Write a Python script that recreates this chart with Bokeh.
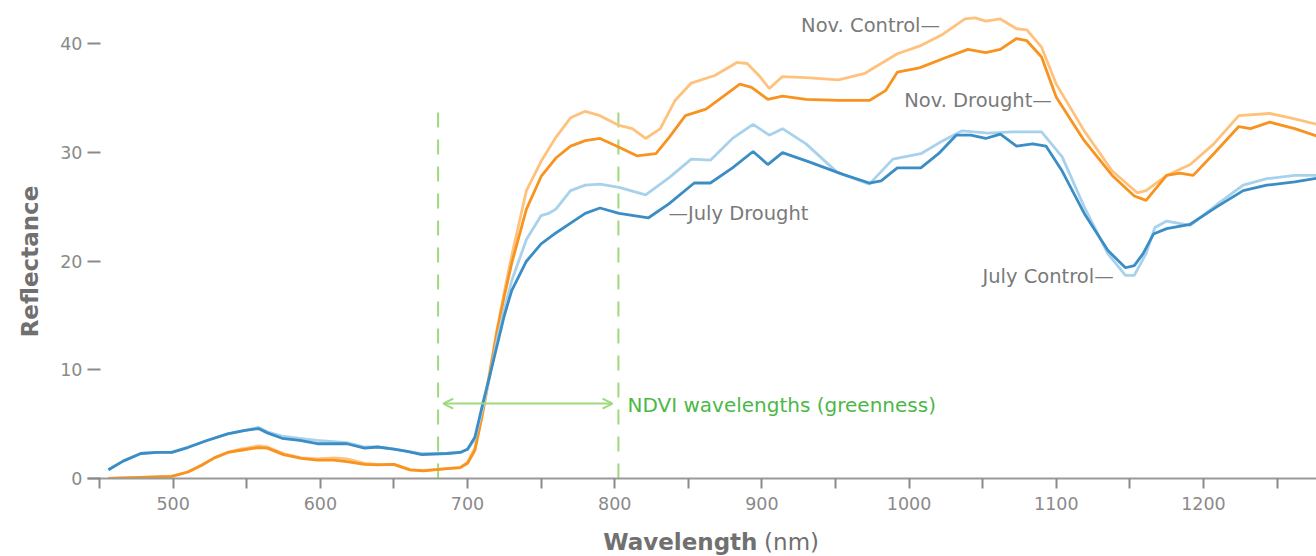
import math
from bokeh.plotting import figure
from bokeh.layouts import column, row
from bokeh.models import Range1d, FixedTicker, Label, Arrow, OpenHead, ColumnDataSource
from bokeh.core.properties import value
from bokeh.embed import file_html
from bokeh.resources import INLINE

# Leaf reflectance spectra (wavelength in nm, reflectance in %)
jd_wl = [456, 466, 478, 489, 499, 510, 523, 537, 548, 558, 564, 574, 586, 598, 609, 618,
         630, 639, 650, 659, 669, 686, 695, 700, 705, 710, 715, 720, 725, 730, 740, 750,
         760, 770, 780, 790, 803, 823, 837, 854, 865, 880, 894, 904, 914, 933, 955, 973,
         981, 992, 1008, 1020, 1032, 1042, 1052, 1062, 1073, 1084, 1093, 1104, 1119, 1135,
         1147, 1153, 1159, 1166, 1175, 1191, 1209, 1227, 1243, 1262, 1280]
jd_val = [0.8, 1.6, 2.3, 2.4, 2.4, 2.85, 3.5, 4.1, 4.4, 4.6, 4.2, 3.7, 3.5, 3.2, 3.2, 3.2,
          2.8, 2.9, 2.7, 2.5, 2.2, 2.3, 2.4, 2.7, 3.8, 6.7, 9.4, 12.2, 15.0, 17.3, 20.0, 21.6,
          22.6, 23.5, 24.4, 24.9, 24.4, 24.0, 25.3, 27.2, 27.2, 28.6, 30.1, 28.9, 30.0, 29.1,
          28.0, 27.2, 27.4, 28.6, 28.6, 29.9, 31.6, 31.6, 31.3, 31.7, 30.6, 30.8, 30.6, 28.3,
          24.4, 21.0, 19.4, 19.6, 20.7, 22.5, 23.0, 23.4, 25.0, 26.5, 27.0, 27.3, 27.7]

jc_wl = [456, 466, 478, 489, 499, 510, 523, 537, 548, 558, 564, 574, 586, 598, 609, 618,
         630, 639, 650, 659, 669, 686, 695, 700, 705, 710, 715, 720, 725, 730, 740, 750,
         755, 760, 770, 780, 790, 803, 821, 837, 852, 865, 880, 894, 905, 914, 930, 951,
         973, 989, 1008, 1023, 1036, 1054, 1070, 1090, 1104, 1119, 1135, 1147, 1153, 1161,
         1167, 1175, 1191, 1209, 1227, 1243, 1262, 1280]
jc_val = [0.8, 1.6, 2.3, 2.4, 2.4, 2.9, 3.5, 4.1, 4.4, 4.7, 4.3, 3.9, 3.7, 3.5, 3.4, 3.3,
          2.9, 2.9, 2.7, 2.5, 2.3, 2.3, 2.4, 2.7, 3.6, 6.3, 9.3, 12.7, 15.6, 18.2, 22.0, 24.2,
          24.4, 24.8, 26.5, 27.0, 27.1, 26.8, 26.1, 27.7, 29.4, 29.3, 31.3, 32.6, 31.6, 32.2,
          30.8, 28.2, 27.1, 29.4, 29.9, 31.1, 32.0, 31.8, 31.9, 31.9, 29.6, 25.0, 20.7, 18.7,
          18.7, 20.7, 23.1, 23.7, 23.3, 25.2, 27.0, 27.6, 27.9, 27.9]

nd_wl = [456, 478, 499, 510, 519, 528, 537, 546, 558, 564, 575, 587, 598, 609, 618, 630,
         639, 650, 661, 670, 686, 695, 700, 705, 710, 715, 720, 725, 730, 740, 750, 760,
         770, 780, 790, 803, 815, 828, 837, 848, 862, 874, 885, 893, 904, 914, 930, 952,
         973, 984, 992, 1007, 1026, 1040, 1052, 1062, 1073, 1080, 1090, 1100, 1119, 1138,
         1153, 1161, 1175, 1184, 1193, 1207, 1224, 1232, 1245, 1262, 1280]
nd_val = [0.0, 0.1, 0.2, 0.6, 1.2, 1.9, 2.4, 2.6, 2.85, 2.8, 2.2, 1.85, 1.7, 1.7, 1.55, 1.3,
          1.25, 1.3, 0.8, 0.7, 0.9, 1.0, 1.4, 2.6, 5.8, 9.5, 13.5, 16.8, 19.8, 24.8, 27.8, 29.5,
          30.6, 31.1, 31.3, 30.5, 29.7, 29.9, 31.4, 33.4, 34.0, 35.2, 36.3, 36.0, 34.9, 35.2,
          34.9, 34.8, 34.8, 35.7, 37.4, 37.8, 38.8, 39.5, 39.2, 39.5, 40.5, 40.3, 38.8, 35.1,
          31.1, 27.9, 26.0, 25.6, 27.9, 28.1, 27.9, 29.9, 32.4, 32.2, 32.8, 32.2, 31.4]

nc_wl = [456, 478, 499, 510, 519, 528, 537, 546, 558, 564, 575, 587, 598, 609, 618, 630,
         639, 650, 661, 670, 686, 695, 700, 705, 710, 715, 720, 725, 730, 740, 750, 760,
         770, 780, 790, 803, 812, 821, 831, 841, 852, 868, 883, 890, 898, 905, 914, 930,
         952, 970, 992, 1007, 1023, 1038, 1045, 1052, 1062, 1073, 1080, 1090, 1100, 1119,
         1138, 1155, 1161, 1175, 1191, 1207, 1224, 1245, 1262, 1280]
nc_val = [0.0, 0.1, 0.2, 0.6, 1.2, 1.9, 2.4, 2.7, 3.0, 2.9, 2.3, 1.9, 1.8, 1.9, 1.8, 1.4,
          1.3, 1.3, 0.8, 0.75, 0.9, 1.0, 1.5, 2.8, 6.0, 9.8, 13.7, 17.2, 20.5, 26.5, 29.2, 31.4,
          33.2, 33.8, 33.4, 32.5, 32.2, 31.3, 32.2, 34.8, 36.4, 37.1, 38.3, 38.2, 37.1, 35.9,
          37.0, 36.9, 36.7, 37.3, 39.1, 39.8, 40.9, 42.3, 42.4, 42.1, 42.3, 41.4, 41.3, 39.7,
          36.3, 32.0, 28.3, 26.3, 26.5, 27.9, 28.9, 30.8, 33.4, 33.6, 33.1, 32.5]

series_names = ["Nov. Control", "Nov. Drought", "July Control", "July Drought"]
x_ticks = list(range(450, 1300, 50))
x_labels = [500, 600, 700, 800, 900, 1000, 1100, 1200]
y_ticks = [0, 10, 20, 30, 40]
ndvi_band = [680, 802.5]
x_title = ["Wavelength", "(nm)"]
y_title = "Reflectance"

FONT = "DejaVu Sans"
GRAY = "#8a8a8a"
DARK = "#707070"
GREEN_TXT = "#4cb748"
GREEN_LN = "#9ed97e"
X_LO, X_HI = 441.8, 1276.8
SIDE_W = 46          # width of the strip holding the y axis title
MAIN_W = 1316 - SIDE_W

p = figure(width=MAIN_W, height=520, output_backend="svg", toolbar_location=None,
           x_range=Range1d(X_LO, X_HI), y_range=Range1d(0, 44.0),
           min_border_left=41, min_border_right=0, min_border_top=0, min_border_bottom=42)
p.outline_line_color = None
p.grid.visible = False

# x axis
xa = p.xaxis[0]
xa.ticker = FixedTicker(ticks=x_ticks)
xa.major_label_overrides = {t: (str(t) if t in x_labels else "") for t in x_ticks}
xa.axis_line_color = "#9a9a9a"
xa.axis_line_width = 2
xa.major_tick_line_color = "#8a8a8a"
xa.major_tick_line_width = 2
xa.major_tick_out = 10
xa.major_tick_in = 0
xa.minor_tick_line_color = None
xa.major_label_standoff = 8
xa.major_label_text_font = FONT
xa.major_label_text_font_size = "17.5px"
xa.major_label_text_color = GRAY

# y axis
ya = p.yaxis[0]
ya.ticker = FixedTicker(ticks=y_ticks)
ya.axis_line_color = None
ya.major_tick_line_color = "#8a8a8a"
ya.major_tick_line_width = 2
ya.major_tick_out = 0
ya.major_tick_in = 13
ya.minor_tick_line_color = None
ya.major_label_standoff = 5
ya.major_label_text_font = FONT
ya.major_label_text_font_size = "17.5px"
ya.major_label_text_color = GRAY

# NDVI band markers
band = ColumnDataSource(dict(x0=ndvi_band, y0=[0, 0], x1=ndvi_band, y1=[34.7, 34.7]))
p.segment("x0", "y0", "x1", "y1", source=band, line_color=GREEN_LN, line_width=2,
          line_dash="15 12")

# spectra
p.line(nc_wl, nc_val, line_color="#ffc27c", line_width=2.8)
p.line(nd_wl, nd_val, line_color="#f7931e", line_width=2.8)
p.line(jc_wl, jc_val, line_color="#a8d2ec", line_width=2.8)
p.line(jd_wl, jd_val, line_color="#3a8dc5", line_width=2.8)

# NDVI arrow and caption
p.add_layout(Arrow(start=OpenHead(size=10, line_color=GREEN_LN, line_width=2),
                   end=OpenHead(size=10, line_color=GREEN_LN, line_width=2),
                   x_start=683.5, y_start=6.9, x_end=798.5, y_end=6.9,
                   line_color=GREEN_LN, line_width=2))
p.add_layout(Label(x=808.7, y=6.8, text="NDVI wavelengths (greenness)", text_align="left",
                   text_baseline="middle", text_font=FONT, text_font_size="20px",
                   text_color=GREEN_TXT))

# series labels
lab_kw = dict(text_baseline="middle", text_font=FONT, text_font_size="19.5px",
              text_color="#7a7a7a")
p.add_layout(Label(x=1021, y=41.7, text=series_names[0] + "\u2014", text_align="right", **lab_kw))
p.add_layout(Label(x=1097, y=34.8, text=series_names[1] + "\u2014", text_align="right", **lab_kw))
p.add_layout(Label(x=1139, y=18.6, text=series_names[2] + "\u2014", text_align="right", **lab_kw))
p.add_layout(Label(x=836.5, y=24.4, text="\u2014" + series_names[3], text_align="left", **lab_kw))

# strip below the chart carrying the x axis title (bold word, regular unit)
t = figure(width=MAIN_W, height=36, output_backend="svg", toolbar_location=None,
           x_range=p.x_range, y_range=Range1d(0, 36), x_axis_type=None, y_axis_type=None,
           min_border_left=41, min_border_right=0, min_border_top=0, min_border_bottom=0)
t.outline_line_color = None
t.grid.visible = False
t.text(x=[897], y=[15], text=[x_title[0]], text_align="right", text_baseline="middle",
       text_font=value(FONT), text_font_style="bold", text_font_size="23px", text_color=DARK)
t.text(x=[901.5], y=[15], text=[x_title[1]], text_align="left", text_baseline="middle",
       text_font=value(FONT), text_font_size="23px", text_color=DARK)

# strip at the left carrying the rotated y axis title
s = figure(width=SIDE_W, height=556, output_backend="svg", toolbar_location=None,
           x_range=Range1d(0, SIDE_W), y_range=Range1d(0, 556),
           x_axis_type=None, y_axis_type=None,
           min_border_left=0, min_border_right=0, min_border_top=0, min_border_bottom=0)
s.outline_line_color = None
s.grid.visible = False
s.text(x=[29], y=[295], text=[y_title], angle=math.pi / 2, text_align="center",
       text_baseline="middle", text_font=value(FONT), text_font_style="bold",
       text_font_size="23px", text_color=DARK)

layout = row(s, column(p, t, spacing=0), spacing=0)
open("out.html", "w").write(file_html(layout, INLINE))
